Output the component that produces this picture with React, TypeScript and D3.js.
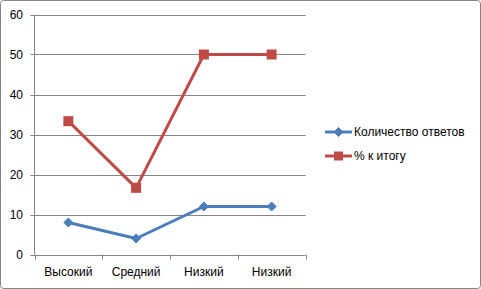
import React from "react";
import * as d3 from "d3";

const categories = ["Высокий", "Средний", "Низкий", "Низкий"];
const seriesNames = ["Количество ответов", "% к итогу"];
const countValues = [8, 4, 12, 12];
const percentValues = [33.33, 16.67, 50, 50];
const yTicks = [0, 10, 20, 30, 40, 50, 60];

const W = 481, H = 289;
const left = 34.5, right = 305.5, top = 14.5, bottom = 254.5;
const FONT = "'Liberation Sans', Arial, sans-serif";

export default function App() {
  const x = d3.scaleBand<number>().domain(d3.range(categories.length)).range([left, right]);
  const y = d3.scaleLinear().domain([0, 60]).range([bottom, top]);
  const cx = (i: number) => x(i)! + x.bandwidth() / 2;
  const line = d3.line<number>().x((_, i) => cx(i)).y((d) => y(d));
  const blue = "#4A7EBB", red = "#BE4B48", grid = "#868686";
  const diamond = (px: number, py: number, r = 4.5) =>
    `M${px},${py - r}L${px + r},${py}L${px},${py + r}L${px - r},${py}Z`;
  const legendY = [132, 156];
  return (
    <svg width={W} height={H} style={{ position: "absolute", left: 0, top: 0, fontFamily: FONT }}>
      <rect x={0.5} y={0.5} width={W - 1} height={H - 1} rx={3} fill="#fff" stroke={grid} />
      {yTicks.map((t) => (
        <g key={t}>
          <line x1={left - 4} x2={right} y1={Math.round(y(t)) + 0.5} y2={Math.round(y(t)) + 0.5} stroke={grid} />
          <text x={23} y={y(t)} dy="0.35em" textAnchor="end" fontSize={12} fill="#000">{t}</text>
        </g>
      ))}
      <line x1={left} x2={left} y1={top} y2={bottom} stroke={grid} />
      {d3.range(categories.length + 1).map((i) => {
        const px = Math.round(left + i * x.step()) + 0.5;
        return <line key={i} x1={px} x2={px} y1={bottom} y2={bottom + 5} stroke={grid} />;
      })}
      {categories.map((c, i) => (
        <text key={i} x={cx(i)} y={276} textAnchor="middle" fontSize={12} fill="#000">{c}</text>
      ))}
      <path d={line(countValues)!} fill="none" stroke={blue} strokeWidth={3} strokeLinejoin="round" />
      {countValues.map((v, i) => (
        <path key={i} d={diamond(cx(i), y(v))} fill={blue} stroke={blue} />
      ))}
      <path d={line(percentValues)!} fill="none" stroke={red} strokeWidth={3} strokeLinejoin="round" />
      {percentValues.map((v, i) => (
        <rect key={i} x={cx(i) - 5} y={y(v) - 5} width={10} height={10} fill={red} />
      ))}
      <g>
        <line x1={325} x2={352} y1={legendY[0]} y2={legendY[0]} stroke={blue} strokeWidth={3} />
        <path d={diamond(338.5, legendY[0])} fill={blue} stroke={blue} />
        <text x={354} y={legendY[0]} dy="0.35em" fontSize={12} fill="#000">{seriesNames[0]}</text>
        <line x1={325} x2={352} y1={legendY[1]} y2={legendY[1]} stroke={red} strokeWidth={3} />
        <rect x={334} y={legendY[1] - 4.5} width={9} height={9} fill={red} />
        <text x={354} y={legendY[1]} dy="0.35em" fontSize={12} fill="#000">{seriesNames[1]}</text>
      </g>
    </svg>
  );
}
